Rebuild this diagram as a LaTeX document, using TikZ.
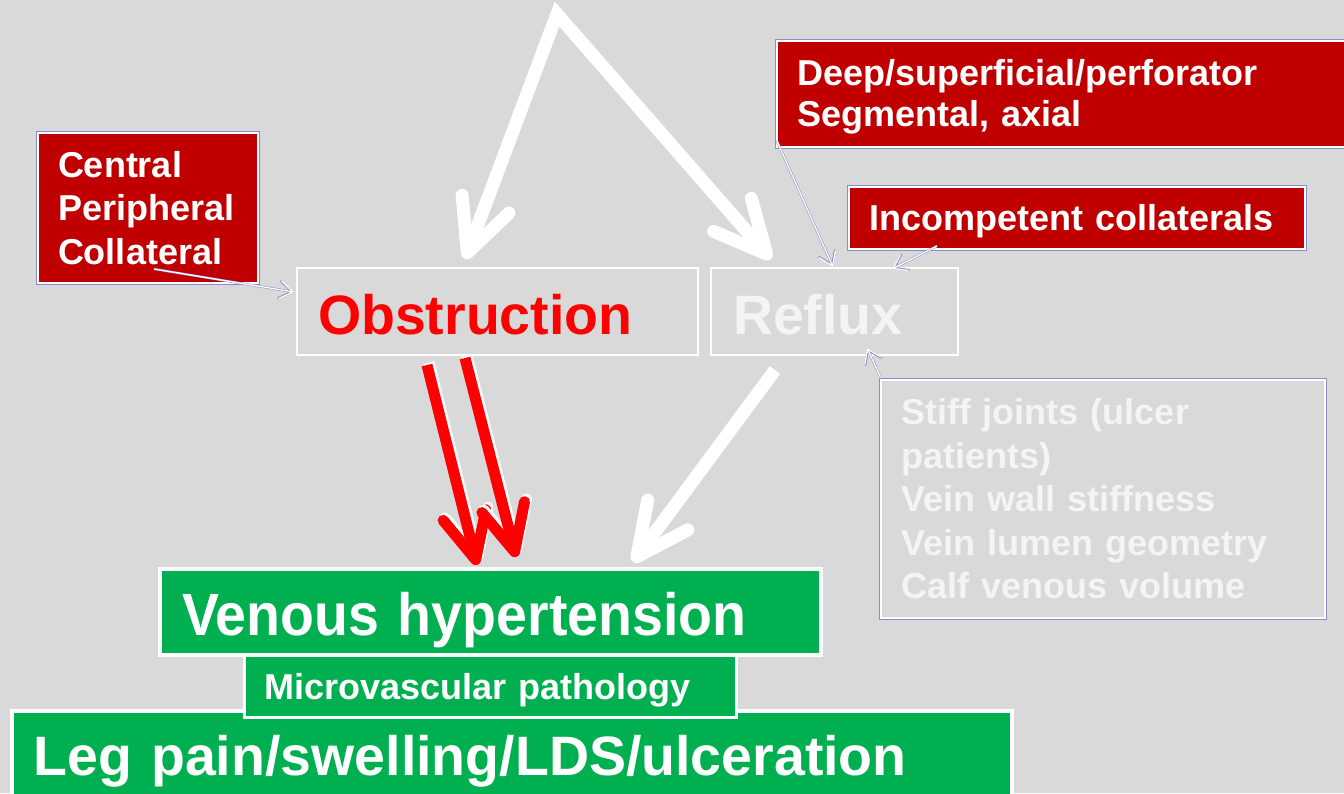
\documentclass[tikz,border=0pt]{standalone}
\usepackage{fontspec}
\setmainfont{Liberation Sans}
\usetikzlibrary{arrows.meta}
\definecolor{bg}{HTML}{D9D9D9}
\definecolor{darkred}{HTML}{C00000}
\definecolor{vgreen}{HTML}{00B050}
\definecolor{lav}{HTML}{8C8CC8}
\definecolor{lightw}{HTML}{F4F4F4}
\definecolor{arrred}{HTML}{FF0000}
\begin{document}
\begin{tikzpicture}[x=1pt,y=-1pt,
  box/.style={anchor=north west, inner ysep=0pt, align=left},
  smallfont/.style={font=\fontsize{36}{43.5}\selectfont\bfseries},
  bigfont/.style={font=\fontsize{55.5}{60}\selectfont\bfseries},
  redbox/.style={box, smallfont, fill=darkred, draw=white, line width=2pt,
     preaction={draw=lav, line width=3.6pt}, text=white},
  outlinebox/.style={box, bigfont, draw=white, line width=2pt},
  greenbox/.style={box, fill=vgreen, draw=white, text=white},
  warrow/.style={draw=white, line width=13pt, line join=miter,
     {Straight Barb[round, length=52pt, width=50pt]}-{Straight Barb[round, length=52pt, width=50pt]}},
  warrowone/.style={draw=white, line width=13pt,
     -{Straight Barb[round, length=52pt, width=50pt]}},
  rarrow/.style={draw=arrred, line width=11pt,
     -{Straight Barb[round, length=46pt, width=44pt]},
     preaction={draw=white, line width=11pt, transform canvas={xshift=2pt, yshift=2.5pt},
        -{Straight Barb[round, length=46pt, width=44pt]}}},
  thinconn/.style={draw=white, line width=1.3pt,
     -{Straight Barb[length=13pt, width=18pt]},
     preaction={draw=lav, line width=2.3pt, -{Straight Barb[length=13pt, width=18pt]}}}
]
\clip (0,0) rectangle (1344,793);
\fill[bg] (0,0) rectangle (1344,793);

% boxes
\node[redbox, text width=180pt, inner xsep=20pt, minimum height=150pt] (cpc) at (37,132)
  {Central\\Peripheral\\Collateral};
\node[outlinebox, text=arrred, text width=359pt, inner xsep=21pt, minimum height=87pt,
   text height=45pt, text depth=0pt] (obs) at (296,267)
  {Obstruction};
\node[outlinebox, text=lightw, text width=203pt, inner xsep=22pt, minimum height=87pt,
   text height=45pt, text depth=0pt] (ref) at (710,267)
  {Reflux};
\node[redbox, font=\fontsize{36}{41}\selectfont\bfseries, text width=572pt, inner xsep=20pt, minimum height=106pt] (deep) at (776,40)
  {\rule{0pt}{32pt}Deep/superficial/perforator\\Segmental, axial};
\node[redbox, text width=416pt, inner xsep=20pt, minimum height=62pt,
   text height=24pt, text depth=0pt] (inc) at (848,186)
  {Incompetent collaterals};
\node[box, smallfont, text=lightw, fill=bg, draw=white, line width=2pt,
   preaction={draw=lav, line width=3.6pt}, text width=404pt, inner xsep=20pt, minimum height=238pt] (grey) at (880,379)
  {Stiff joints (ulcer\\patients)\\Vein wall stiffness\\Vein lumen geometry\\Calf venous volume};

\node[greenbox, bigfont, line width=4pt, text width=617pt, inner xsep=22pt, minimum height=86pt,
   text height=46pt, text depth=0pt] (vh) at (158,567)
  {\scalebox{1}[1.075]{Venous hypertension}};
\node[greenbox, bigfont, line width=4pt, text width=956pt, inner xsep=22pt, minimum height=92pt,
   text height=36pt, text depth=0pt] (leg) at (10,709)
  {Leg pain/swelling/LDS/ulceration};
\node[greenbox, smallfont, line width=2.5pt, text width=452pt, inner xsep=20pt, minimum height=62pt,
   text height=26pt, text depth=0pt] (mic) at (243,654)
  {Microvascular pathology};

% coordinates for connector ends
\coordinate (apex) at (557,14);
\coordinate (tipObs) at (465,259);
\coordinate (tipRef) at (771,259);
\coordinate (rA0) at (427,365);
\coordinate (rA1) at (477,565);
\coordinate (rB0) at (465,358);
\coordinate (rB1) at (516,557);
\coordinate (wR0) at (775,370);
\coordinate (wR1) at (633,562);
\coordinate (cpcStart) at (154,269);
\coordinate (obsIn) at (294,292);
\coordinate (deepStart) at (777,141);
\coordinate (refInA) at (833,267);
\coordinate (incStart) at (937,246);
\coordinate (refInB) at (892,269);
\coordinate (greyStart) at (880,376);
\coordinate (refInC) at (867,348);

% thick arrows
\draw[warrow] (tipObs) -- (apex) -- (tipRef);
\draw[rarrow] (rA0) -- (rA1);
\draw[rarrow] (rB0) -- (rB1);
\draw[warrowone] (wR0) -- (wR1);

% thin connectors
\draw[thinconn] (cpcStart) -- (obsIn);
\draw[thinconn] (deepStart) -- (refInA);
\draw[thinconn] (incStart) -- (refInB);
\draw[thinconn] (greyStart) -- (refInC);
\end{tikzpicture}
\end{document}
